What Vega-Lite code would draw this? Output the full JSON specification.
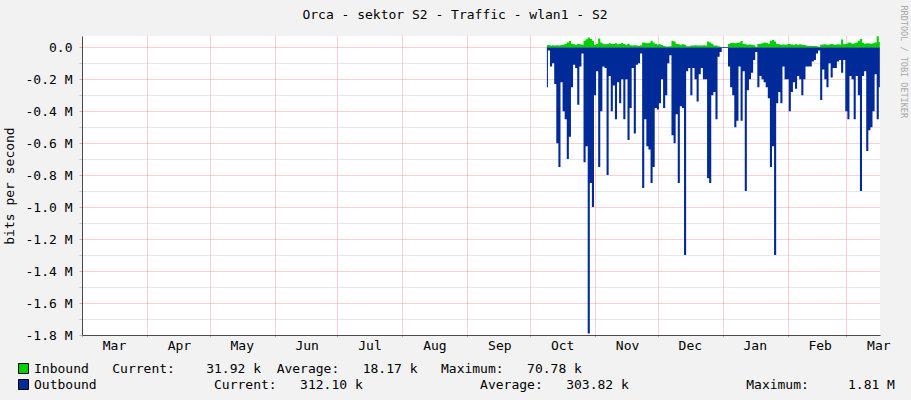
{
  "$schema": "https://vega.github.io/schema/vega-lite/v6.json",
  "width": 798,
  "height": 299,
  "autosize": {"type": "none"},
  "padding": {"left": 82, "top": 36, "right": 31, "bottom": 65},
  "background": "#F2F2F2",
  "title": {"text": "Orca - sektor S2 - Traffic - wlan1 - S2", "font": "DejaVu Sans Mono", "fontSize": 13, "fontWeight": "normal", "color": "#000000", "anchor": "middle", "frame": "bounds", "offset": -17},
  "config": {"view": {"fill": "#FFFFFF", "stroke": null}, "font": "DejaVu Sans Mono"},
  "data": {"values": [
    {"t":"2013-10-09","Inbound":0.012,"Outbound":-0.25},
    {"t":"2013-10-10","Inbound":0.014,"Outbound":-0.02},
    {"t":"2013-10-11","Inbound":0.010,"Outbound":-0.12},
    {"t":"2013-10-12","Inbound":0.012,"Outbound":-0.10},
    {"t":"2013-10-13","Inbound":0.010,"Outbound":-0.23},
    {"t":"2013-10-14","Inbound":0.012,"Outbound":-0.60},
    {"t":"2013-10-15","Inbound":0.011,"Outbound":-0.75},
    {"t":"2013-10-16","Inbound":0.013,"Outbound":-0.22},
    {"t":"2013-10-17","Inbound":0.015,"Outbound":-0.40},
    {"t":"2013-10-18","Inbound":0.020,"Outbound":-0.45},
    {"t":"2013-10-19","Inbound":0.030,"Outbound":-0.70},
    {"t":"2013-10-20","Inbound":0.038,"Outbound":-0.56},
    {"t":"2013-10-21","Inbound":0.022,"Outbound":-0.25},
    {"t":"2013-10-22","Inbound":0.018,"Outbound":-0.11},
    {"t":"2013-10-23","Inbound":0.016,"Outbound":-0.13},
    {"t":"2013-10-24","Inbound":0.020,"Outbound":-0.36},
    {"t":"2013-10-25","Inbound":0.018,"Outbound":-0.12},
    {"t":"2013-10-26","Inbound":0.015,"Outbound":-0.04},
    {"t":"2013-10-27","Inbound":0.040,"Outbound":-0.72},
    {"t":"2013-10-28","Inbound":0.050,"Outbound":-0.62},
    {"t":"2013-10-29","Inbound":0.060,"Outbound":-1.79},
    {"t":"2013-10-30","Inbound":0.052,"Outbound":-0.85},
    {"t":"2013-10-31","Inbound":0.040,"Outbound":-1.00},
    {"t":"2013-11-01","Inbound":0.015,"Outbound":-0.30},
    {"t":"2013-11-02","Inbound":0.020,"Outbound":-0.15},
    {"t":"2013-11-03","Inbound":0.055,"Outbound":-0.75},
    {"t":"2013-11-04","Inbound":0.030,"Outbound":-0.40},
    {"t":"2013-11-05","Inbound":0.022,"Outbound":-0.12},
    {"t":"2013-11-06","Inbound":0.018,"Outbound":-0.13},
    {"t":"2013-11-07","Inbound":0.020,"Outbound":-0.80},
    {"t":"2013-11-08","Inbound":0.025,"Outbound":-0.18},
    {"t":"2013-11-09","Inbound":0.022,"Outbound":-0.40},
    {"t":"2013-11-10","Inbound":0.020,"Outbound":-0.24},
    {"t":"2013-11-11","Inbound":0.024,"Outbound":-0.45},
    {"t":"2013-11-12","Inbound":0.018,"Outbound":-0.22},
    {"t":"2013-11-13","Inbound":0.022,"Outbound":-0.35},
    {"t":"2013-11-14","Inbound":0.026,"Outbound":-0.20},
    {"t":"2013-11-15","Inbound":0.020,"Outbound":-0.45},
    {"t":"2013-11-16","Inbound":0.015,"Outbound":-0.20},
    {"t":"2013-11-17","Inbound":0.022,"Outbound":-0.58},
    {"t":"2013-11-18","Inbound":0.012,"Outbound":-0.38},
    {"t":"2013-11-19","Inbound":0.010,"Outbound":-0.13},
    {"t":"2013-11-20","Inbound":0.012,"Outbound":-0.54},
    {"t":"2013-11-21","Inbound":0.010,"Outbound":-0.11},
    {"t":"2013-11-22","Inbound":0.009,"Outbound":-0.10},
    {"t":"2013-11-23","Inbound":0.012,"Outbound":-0.04},
    {"t":"2013-11-24","Inbound":0.030,"Outbound":-0.88},
    {"t":"2013-11-25","Inbound":0.028,"Outbound":-0.45},
    {"t":"2013-11-26","Inbound":0.025,"Outbound":-0.62},
    {"t":"2013-11-27","Inbound":0.028,"Outbound":-0.64},
    {"t":"2013-11-28","Inbound":0.040,"Outbound":-0.85},
    {"t":"2013-11-29","Inbound":0.030,"Outbound":-0.75},
    {"t":"2013-11-30","Inbound":0.020,"Outbound":-0.38},
    {"t":"2013-12-01","Inbound":0.017,"Outbound":-0.39},
    {"t":"2013-12-02","Inbound":0.018,"Outbound":-0.35},
    {"t":"2013-12-03","Inbound":0.014,"Outbound":-0.20},
    {"t":"2013-12-04","Inbound":0.008,"Outbound":-0.38},
    {"t":"2013-12-05","Inbound":0.005,"Outbound":-0.30},
    {"t":"2013-12-06","Inbound":0.004,"Outbound":-0.10},
    {"t":"2013-12-07","Inbound":0.006,"Outbound":-0.05},
    {"t":"2013-12-08","Inbound":0.040,"Outbound":-0.55},
    {"t":"2013-12-09","Inbound":0.035,"Outbound":-0.60},
    {"t":"2013-12-10","Inbound":0.020,"Outbound":-0.42},
    {"t":"2013-12-11","Inbound":0.018,"Outbound":-0.85},
    {"t":"2013-12-12","Inbound":0.016,"Outbound":-0.37},
    {"t":"2013-12-13","Inbound":0.018,"Outbound":-0.38},
    {"t":"2013-12-14","Inbound":0.015,"Outbound":-1.30},
    {"t":"2013-12-15","Inbound":0.006,"Outbound":-0.15},
    {"t":"2013-12-16","Inbound":0.006,"Outbound":-0.13},
    {"t":"2013-12-17","Inbound":0.010,"Outbound":-0.30},
    {"t":"2013-12-18","Inbound":0.010,"Outbound":-0.13},
    {"t":"2013-12-19","Inbound":0.012,"Outbound":-0.20},
    {"t":"2013-12-20","Inbound":0.010,"Outbound":-0.34},
    {"t":"2013-12-21","Inbound":0.011,"Outbound":-0.17},
    {"t":"2013-12-22","Inbound":0.010,"Outbound":-0.13},
    {"t":"2013-12-23","Inbound":0.012,"Outbound":-0.20},
    {"t":"2013-12-24","Inbound":0.010,"Outbound":-0.20},
    {"t":"2013-12-25","Inbound":0.035,"Outbound":-0.82},
    {"t":"2013-12-26","Inbound":0.030,"Outbound":-0.85},
    {"t":"2013-12-27","Inbound":0.022,"Outbound":-0.30},
    {"t":"2013-12-28","Inbound":0.010,"Outbound":-0.28},
    {"t":"2013-12-29","Inbound":0.010,"Outbound":-0.45},
    {"t":"2013-12-30","Inbound":0.006,"Outbound":-0.06},
    {"t":"2013-12-31","Inbound":0.003,"Outbound":-0.03},
    {"t":"2014-01-01","Inbound":0.000,"Outbound":-0.005},
    {"t":"2014-01-02","Inbound":0.000,"Outbound":-0.005},
    {"t":"2014-01-03","Inbound":0.000,"Outbound":-0.005},
    {"t":"2014-01-04","Inbound":0.020,"Outbound":-0.12},
    {"t":"2014-01-05","Inbound":0.026,"Outbound":-0.25},
    {"t":"2014-01-06","Inbound":0.028,"Outbound":-0.30},
    {"t":"2014-01-07","Inbound":0.025,"Outbound":-0.50},
    {"t":"2014-01-08","Inbound":0.027,"Outbound":-0.46},
    {"t":"2014-01-09","Inbound":0.030,"Outbound":-0.12},
    {"t":"2014-01-10","Inbound":0.038,"Outbound":-0.46},
    {"t":"2014-01-11","Inbound":0.020,"Outbound":-0.15},
    {"t":"2014-01-12","Inbound":0.018,"Outbound":-0.90},
    {"t":"2014-01-13","Inbound":0.016,"Outbound":-0.27},
    {"t":"2014-01-14","Inbound":0.017,"Outbound":-0.20},
    {"t":"2014-01-15","Inbound":0.015,"Outbound":-0.16},
    {"t":"2014-01-16","Inbound":0.012,"Outbound":-0.08},
    {"t":"2014-01-17","Inbound":0.002,"Outbound":-0.03},
    {"t":"2014-01-18","Inbound":0.020,"Outbound":-0.25},
    {"t":"2014-01-19","Inbound":0.022,"Outbound":-0.18},
    {"t":"2014-01-20","Inbound":0.024,"Outbound":-0.20},
    {"t":"2014-01-21","Inbound":0.030,"Outbound":-0.22},
    {"t":"2014-01-22","Inbound":0.026,"Outbound":-0.25},
    {"t":"2014-01-23","Inbound":0.022,"Outbound":-0.32},
    {"t":"2014-01-24","Inbound":0.040,"Outbound":-0.75},
    {"t":"2014-01-25","Inbound":0.045,"Outbound":-0.62},
    {"t":"2014-01-26","Inbound":0.035,"Outbound":-1.30},
    {"t":"2014-01-27","Inbound":0.020,"Outbound":-0.35},
    {"t":"2014-01-28","Inbound":0.018,"Outbound":-0.28},
    {"t":"2014-01-29","Inbound":0.016,"Outbound":-0.35},
    {"t":"2014-01-30","Inbound":0.017,"Outbound":-0.12},
    {"t":"2014-01-31","Inbound":0.016,"Outbound":-0.20},
    {"t":"2014-02-01","Inbound":0.018,"Outbound":-0.20},
    {"t":"2014-02-02","Inbound":0.020,"Outbound":-0.40},
    {"t":"2014-02-03","Inbound":0.017,"Outbound":-0.28},
    {"t":"2014-02-04","Inbound":0.016,"Outbound":-0.22},
    {"t":"2014-02-05","Inbound":0.018,"Outbound":-0.26},
    {"t":"2014-02-06","Inbound":0.016,"Outbound":-0.18},
    {"t":"2014-02-07","Inbound":0.018,"Outbound":-0.20},
    {"t":"2014-02-08","Inbound":0.015,"Outbound":-0.30},
    {"t":"2014-02-09","Inbound":0.014,"Outbound":-0.20},
    {"t":"2014-02-10","Inbound":0.010,"Outbound":-0.12},
    {"t":"2014-02-11","Inbound":0.008,"Outbound":-0.12},
    {"t":"2014-02-12","Inbound":0.009,"Outbound":-0.12},
    {"t":"2014-02-13","Inbound":0.008,"Outbound":-0.09},
    {"t":"2014-02-14","Inbound":0.008,"Outbound":-0.08},
    {"t":"2014-02-15","Inbound":0.006,"Outbound":-0.04},
    {"t":"2014-02-16","Inbound":0.002,"Outbound":-0.02},
    {"t":"2014-02-17","Inbound":0.015,"Outbound":-0.33},
    {"t":"2014-02-18","Inbound":0.017,"Outbound":-0.14},
    {"t":"2014-02-19","Inbound":0.018,"Outbound":-0.20},
    {"t":"2014-02-20","Inbound":0.016,"Outbound":-0.25},
    {"t":"2014-02-21","Inbound":0.017,"Outbound":-0.10},
    {"t":"2014-02-22","Inbound":0.020,"Outbound":-0.19},
    {"t":"2014-02-23","Inbound":0.017,"Outbound":-0.13},
    {"t":"2014-02-24","Inbound":0.016,"Outbound":-0.13},
    {"t":"2014-02-25","Inbound":0.018,"Outbound":-0.09},
    {"t":"2014-02-26","Inbound":0.017,"Outbound":-0.08},
    {"t":"2014-02-27","Inbound":0.048,"Outbound":-0.16},
    {"t":"2014-02-28","Inbound":0.018,"Outbound":-0.08},
    {"t":"2014-03-01","Inbound":0.020,"Outbound":-0.40},
    {"t":"2014-03-02","Inbound":0.030,"Outbound":-0.45},
    {"t":"2014-03-03","Inbound":0.028,"Outbound":-0.18},
    {"t":"2014-03-04","Inbound":0.022,"Outbound":-0.20},
    {"t":"2014-03-05","Inbound":0.024,"Outbound":-0.45},
    {"t":"2014-03-06","Inbound":0.030,"Outbound":-0.18},
    {"t":"2014-03-07","Inbound":0.040,"Outbound":-0.30},
    {"t":"2014-03-08","Inbound":0.052,"Outbound":-0.90},
    {"t":"2014-03-09","Inbound":0.028,"Outbound":-0.18},
    {"t":"2014-03-10","Inbound":0.022,"Outbound":-0.15},
    {"t":"2014-03-11","Inbound":0.024,"Outbound":-0.65},
    {"t":"2014-03-12","Inbound":0.023,"Outbound":-0.52},
    {"t":"2014-03-13","Inbound":0.022,"Outbound":-0.50},
    {"t":"2014-03-14","Inbound":0.025,"Outbound":-0.40},
    {"t":"2014-03-15","Inbound":0.030,"Outbound":-0.17},
    {"t":"2014-03-16","Inbound":0.068,"Outbound":-0.45},
    {"t":"2014-03-17","Inbound":0.032,"Outbound":-0.25}
  ]},
  "transform": [{"fold": ["Inbound", "Outbound"], "as": ["series", "value"]}],
  "layer": [
    {
      "transform": [{"filter": "datum.series == 'Outbound'"}],
      "mark": {"type": "area", "interpolate": "step"},
      "encoding": {
        "x": {
          "field": "t", "type": "temporal",
          "scale": {"type": "utc", "domain": [{"year": 2013, "month": 3, "date": 1, "utc": true}, {"year": 2014, "month": 3, "date": 17, "hours": 2, "utc": true}]},
          "axis": {
            "title": null, "format": "%b", "tickCount": {"interval": "month", "step": 1},
            "labelOffset": 32, "labelFlush": false, "labelOverlap": false,
            "labelFont": "DejaVu Sans Mono", "labelFontSize": 13, "labelColor": "#000000", "labelPadding": 2,
            "tickSize": 2, "tickColor": "#F0A0A0",
            "gridColor": "#F0A0A0", "gridDash": [1, 1], "gridOpacity": 1,
            "domainColor": "#4A4A4A"
          }
        },
        "y": {
          "field": "value", "type": "quantitative", "stack": null,
          "scale": {"domain": [-1.8, 0.07], "nice": false, "zero": false},
          "axis": {
            "values": [0, -0.1, -0.2, -0.3, -0.4, -0.5, -0.6, -0.7, -0.8, -0.9, -1.0, -1.1, -1.2, -1.3, -1.4, -1.5, -1.6, -1.7, -1.8],
            "labelExpr": "round(abs(datum.value)*10) % 2 == 0 ? (datum.value == 0 ? '0.0\u00a0\u00a0' : '-' + format(abs(datum.value), '.1f') + '\u00a0M') : ''",
            "title": "bits per second", "titleFont": "DejaVu Sans Mono", "titleFontSize": 13, "titleFontWeight": "normal", "titleColor": "#000000", "titlePadding": 9,
            "labelFont": "DejaVu Sans Mono", "labelFontSize": 13, "labelColor": "#000000", "labelPadding": 7, "labelOverlap": false,
            "tickSize": 3,
            "tickColor": {"condition": {"test": "round(abs(datum.value)*10) % 2 == 0", "value": "#F0A0A0"}, "value": "#C8C8C8"},
            "gridColor": {"condition": {"test": "round(abs(datum.value)*10) % 2 == 0", "value": "#F0A0A0"}, "value": "#CFCFCF"},
            "gridDash": [1, 1], "gridOpacity": 1,
            "domainColor": "#4A4A4A"
          }
        },
        "y2": {"datum": 0},
        "color": {
          "field": "series", "type": "nominal",
          "scale": {"domain": ["Inbound", "Outbound"], "range": ["#00CF00", "#002A97"]},
          "legend": {
            "title": null, "orient": "none", "legendX": -65, "legendY": 326, "direction": "vertical",
            "symbolType": "square", "symbolSize": 100, "symbolStrokeColor": "#000000", "symbolStrokeWidth": 1, "symbolOpacity": 1,
            "labelFont": "DejaVu Sans Mono", "labelFontSize": 13, "labelColor": "#000000", "labelLimit": 0, "labelOffset": 4, "rowPadding": 1,
            "labelExpr": "datum.label == 'Inbound' ? 'Inbound\u00a0\u00a0\u00a0Current:\u00a0\u00a0\u00a0\u00a031.92\u00a0k\u00a0\u00a0Average:\u00a0\u00a0\u00a018.17\u00a0k\u00a0\u00a0\u00a0Maximum:\u00a0\u00a0\u00a070.78\u00a0k' : 'Outbound\u00a0\u00a0\u00a0\u00a0\u00a0\u00a0\u00a0\u00a0\u00a0\u00a0\u00a0\u00a0\u00a0\u00a0\u00a0Current:\u00a0\u00a0\u00a0312.10\u00a0k\u00a0\u00a0\u00a0\u00a0\u00a0\u00a0\u00a0\u00a0\u00a0\u00a0\u00a0\u00a0\u00a0\u00a0\u00a0Average:\u00a0\u00a0\u00a0303.82\u00a0k\u00a0\u00a0\u00a0\u00a0\u00a0\u00a0\u00a0\u00a0\u00a0\u00a0\u00a0\u00a0\u00a0\u00a0\u00a0Maximum:\u00a0\u00a0\u00a0\u00a0\u00a01.81\u00a0M'"
          }
        }
      }
    },
    {
      "transform": [{"filter": "datum.series == 'Inbound'"}],
      "mark": {"type": "area", "interpolate": "step"},
      "encoding": {
        "x": {"field": "t", "type": "temporal"},
        "y": {
          "field": "value", "type": "quantitative", "stack": null,
          "scale": {"domain": [-1.8, 0.07], "nice": false, "zero": false},
          "axis": {
            "orient": "right", "title": "RRDTOOL / TOBI OETIKER", "labels": false, "ticks": false, "domain": false, "grid": false,
            "titleAngle": 90, "titleFont": "DejaVu Sans Mono", "titleFontSize": 8.5, "titleFontWeight": "normal", "titleColor": "#A8A8A8",
            "titleX": 23, "titleY": -31, "titleAlign": "left", "titleBaseline": "middle"
          }
        },
        "y2": {"datum": 0},
        "color": {"field": "series", "type": "nominal"}
      }
    }
  ],
  "resolve": {"axis": {"y": "independent"}}
}
